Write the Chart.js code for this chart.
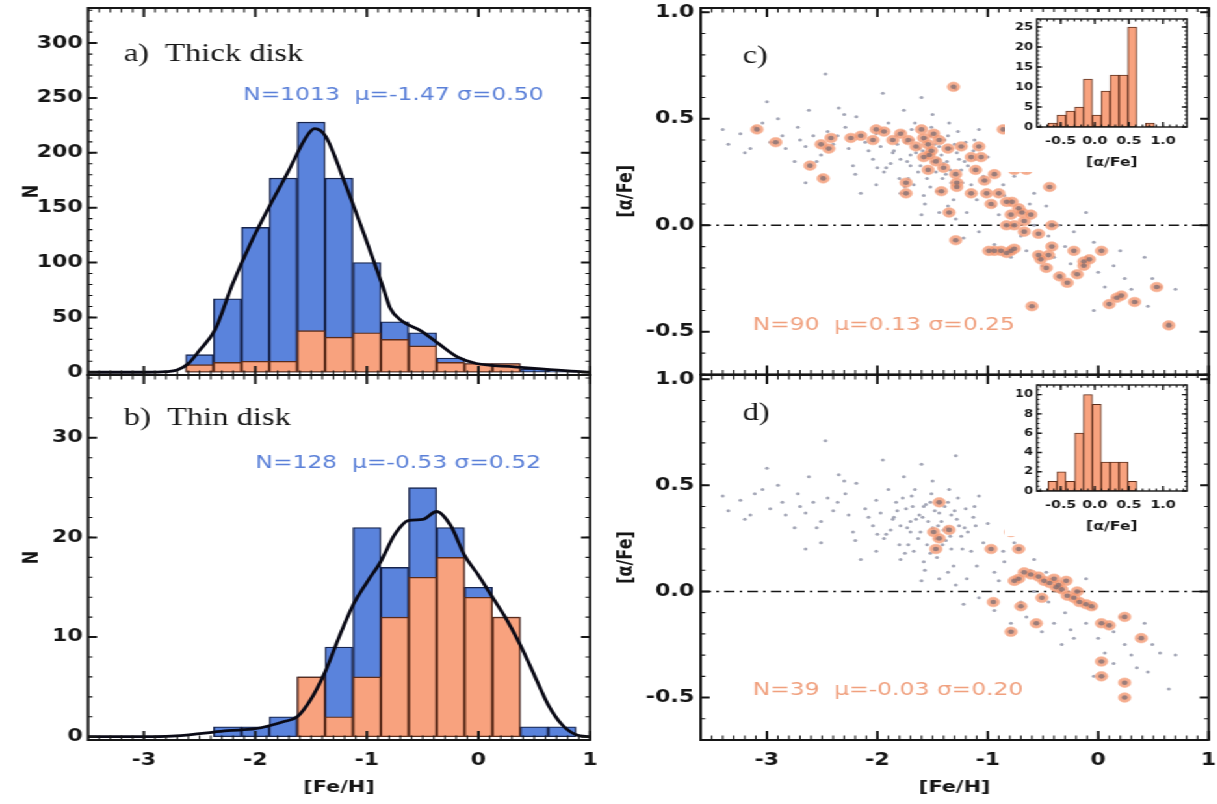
<!DOCTYPE html>
<html>
<head>
<meta charset="utf-8">
<title>Thick and thin disk metallicity</title>
<script src="https://cdn.jsdelivr.net/npm/chart.js@4.4.1/dist/chart.umd.min.js"></script>
<style>
  html, body { margin: 0; padding: 0; width: 1217px; height: 804px; background: #fff; overflow: hidden; }
  /* the original figure is stretched sideways, so draw narrow and widen it */
  #fig { position: absolute; left: 0; top: 0; width: 937px; height: 804px; transform: scaleX(1.3); transform-origin: 0 0; }
  #fig canvas { position: absolute; }
</style>
</head>
<body>
<div id="fig">
  <canvas id="panelA"></canvas>
  <canvas id="panelB"></canvas>
  <canvas id="panelC"></canvas>
  <canvas id="panelD"></canvas>
  <canvas id="insetC"></canvas>
  <canvas id="insetD"></canvas>
</div>
<script>
const SX = 1.3;

// [Fe/H] histograms (bin centres, counts)
const thickBins = [-2.5, -2.25, -2.0, -1.75, -1.5, -1.25, -1.0, -0.75, -0.5, -0.25, 0.0, 0.25, 0.5, 0.75];
const thickAll  = [16, 67, 132, 177, 228, 177, 100, 46, 36, 13, 8, 8, 3, 1];
const thickSub  = [7, 9, 10, 10, 38, 32, 36, 30, 24, 9, 8, 8, null, null];
const thickFitX = [-3.5, -3.0, -2.8, -2.7, -2.6, -2.5, -2.36, -2.21, -2.04, -1.875, -1.71, -1.54, -1.47, -1.37, -1.2, -1.03, -0.86, -0.79, -0.69, -0.52, -0.37, -0.19, -0.02, 0.32, 0.56, 0.83, 1.0];
const thickFitY = [0, 0, 0.5, 2, 8, 20, 39, 79, 118, 151, 182, 215, 222, 215, 173, 127, 79, 58, 47, 38, 27, 14, 8, 5, 3, 1, 0];

const thinBins = [-2.25, -2.0, -1.75, -1.5, -1.25, -1.0, -0.75, -0.5, -0.25, 0.0, 0.25, 0.5, 0.75];
const thinAll  = [1, 1, 2, 6, 9, 21, 17, 25, 21, 15, 12, 1, 1];
const thinSub  = [null, null, null, 6, 2, 6, 12, 16, 18, 14, 12, null, null];
const thinFitX = [-3.5, -3.0, -2.75, -2.5, -2.25, -2.0, -1.875, -1.75, -1.625, -1.5, -1.375, -1.25, -1.125, -1.0, -0.875, -0.75, -0.625, -0.5, -0.375, -0.25, -0.125, 0.0, 0.125, 0.25, 0.375, 0.5, 0.625, 0.75, 0.875, 1.0];
const thinFitY = [0, 0, 0.05, 0.3, 0.6, 0.8, 1.1, 1.5, 2.0, 3.8, 6.5, 10.0, 13.2, 15.5, 17.6, 20.3, 21.7, 21.8, 22.6, 21.2, 18.2, 16.2, 14.0, 11.8, 9.2, 6.2, 3.2, 1.2, 0.2, 0];

// [alpha/Fe] inset histograms
const alphaBins  = [-0.62, -0.49, -0.36, -0.23, -0.10, 0.03, 0.16, 0.29, 0.42, 0.55, 0.68, 0.81];
const alphaThick = [1, 3, 4, 5, 12, 3, 9, 13, 13, 25, null, 1];
const alphaThin  = [1, 2, 1, 6, 10, 9, 3, 3, 3, 1, null, null];

// full sample, small grey dots
const bgFeH = [
  -3.35, -3.24, -3.11, -3.04, -3.15, -2.97, -2.86, -2.83, -2.72, -2.65,
  -2.58, -2.51, -2.47, -2.65, -2.51, -2.36, -2.29, -2.26, -2.22, -2.19,
  -2.11, -2.04, -2.01, -1.97, -1.94, -1.90, -1.86, -1.83, -1.79, -1.76,
  -1.74, -1.72, -1.69, -1.65, -1.61, -1.60, -1.58, -1.54, -1.51, -1.47,
  -1.44, -1.40, -1.36, -1.33, -1.29, -1.28, -1.24, -1.20, -1.15, -1.11,
  -1.08, -1.04, -2.15, -2.01, -1.79, -1.58, -1.36, -1.29, -1.19, -1.22,
  -1.08, -0.94, -0.86, -0.76, -0.65, -0.58, -0.47, -0.94, -0.79, -0.65,
  -0.51, -0.40, -0.33, -0.22, -0.11, -0.04, 0.06, 0.14, 0.24, 0.35,
  0.49, 0.56, 0.64, -0.04, 0.14, 0.42, -0.36, -0.22, -0.11, -0.58,
  -0.72, -1.70, -1.62, -1.55, -1.50, -1.42, -1.38, -1.30, -1.26, -1.68,
  -1.88, -2.40, -2.75, -3.00, -2.62, -1.95, -1.50, -1.10, -0.90, -0.70,
  -0.30, 0.00, 0.30, -2.35, -1.35, -1.75,
  -1.92, -1.85, -1.80, -1.77, -1.73, -1.67, -1.63, -1.59, -1.56, -1.52,
  -1.48, -1.45, -1.41, -1.37, -1.33, -1.31, -1.27, -1.23, -1.18, -1.13,
  -1.66, -1.57, -1.46, -1.39, -1.21, -2.08, -2.20, -2.30, -2.45, -2.55,
  -2.70, -2.90, -3.20, -3.40, -1.00, -0.85, -0.62, -0.45, -0.25, 0.20,
  0.45, 0.70, -1.60, -1.44, -1.70, -1.52, -1.34, -1.82, -2.00, -1.12
];
const bgAlpha = [
  0.38, 0.43, 0.46, 0.48, 0.36, 0.39, 0.42, 0.36, 0.46, 0.37,
  0.42, 0.33, 0.71, 0.20, 0.23, 0.42, 0.46, 0.36, 0.28, 0.51,
  0.39, 0.31, 0.43, 0.37, 0.25, 0.48, 0.34, 0.42, 0.31, 0.54,
  0.39, 0.22, 0.45, 0.34, 0.28, 0.60, 0.40, 0.33, 0.46, 0.25,
  0.37, 0.29, 0.42, 0.20, 0.64, 0.34, 0.26, 0.39, 0.19, 0.31,
  0.45, 0.23, 0.15, 0.19, 0.15, 0.14, 0.09, 0.03, 0.06, -0.06,
  -0.03, 0.09, 0.19, 0.23, 0.28, 0.15, 0.09, -0.09, -0.15, -0.12,
  -0.19, -0.15, -0.25, -0.22, -0.15, -0.08, -0.29, -0.34, -0.25, -0.36,
  -0.25, -0.29, -0.46, -0.40, -0.19, -0.15, 0.00, -0.03, 0.06, 0.00,
  0.06, 0.28, 0.36, 0.22, 0.30, 0.33, 0.24, 0.38, 0.31, 0.40,
  0.29, 0.38, 0.30, 0.58, 0.54, 0.62, 0.52, 0.12, 0.05, -0.05,
  -0.10, -0.22, -0.30, 0.55, 0.48, 0.18,
  0.27, 0.35, 0.22, 0.44, 0.30, 0.19, 0.25, 0.35, 0.41, 0.18,
  0.38, 0.31, 0.22, 0.30, 0.36, 0.12, 0.44, 0.20, 0.28, 0.35,
  0.48, 0.10, 0.16, 0.40, 0.30, 0.35, 0.24, 0.52, 0.44, 0.30,
  0.40, 0.50, 0.34, 0.45, 0.32, 0.14, 0.10, -0.05, -0.18, -0.12,
  -0.38, -0.30, 0.05, 0.06, 0.33, 0.42, 0.26, 0.38, 0.27, 0.40
];

// thick disk stars with [alpha/Fe] (panel c)
const thickFeH = [
  -3.09, -2.92, -2.61, -2.51, -2.49, -2.42, -2.24, -2.01, -1.94, -1.86,
  -1.79, -1.74, -1.74, -1.65, -1.60, -1.58, -1.54, -1.51, -1.47, -1.54,
  -1.44, -1.42, -1.36, -1.31, -1.29, -1.28, -1.35, -1.29, -1.24, -1.15,
  -1.08, -1.06, -1.03, -1.01, -0.97, -0.99, -0.94, -0.88, -0.83, -0.94,
  -0.90, -0.86, -0.83, -0.78, -0.76, -0.72, -0.69, -0.67, -0.83, -0.76,
  -0.67, -0.65, -0.54, -0.54, -0.45, -0.47, -0.44, -0.42, -0.35, -0.28,
  -0.22, -0.19, -0.13, 0.03, 0.10, 0.17, 0.21, 0.33, 0.53, 0.64,
  -0.60, -2.04, -2.15, -1.58, -1.49, -1.53, -1.40, -1.15, -1.11, -1.28,
  -0.79, -0.61, -0.76, -0.52, -0.13, -0.79, -2.44, -1.72, -0.42, -0.08
];
const thickAlpha = [
  0.45, 0.39, 0.28, 0.38, 0.22, 0.41, 0.41, 0.45, 0.44, 0.40,
  0.43, 0.20, 0.15, 0.37, 0.45, 0.41, 0.38, 0.35, 0.30, 0.26,
  0.40, 0.16, 0.36, 0.65, 0.24, 0.20, 0.06, -0.07, 0.37, 0.15,
  0.37, 0.32, 0.21, 0.15, 0.10, -0.12, -0.12, -0.12, -0.13, 0.24,
  0.15, 0.45, 0.11, 0.11, 0.26, 0.08, 0.06, 0.02, 0.00, 0.00,
  -0.03, 0.26, -0.04, -0.14, -0.14, -0.20, 0.18, 0.00, -0.24, -0.27,
  -0.12, -0.23, -0.17, -0.12, -0.37, -0.34, -0.33, -0.36, -0.29, -0.47,
  -0.38, 0.40, 0.42, 0.32, 0.43, 0.33, 0.27, 0.32, 0.26, 0.18,
  0.05, 0.05, -0.11, -0.16, -0.19, -0.12, 0.36, 0.40, -0.10, -0.16
];

// thin disk stars with [alpha/Fe] (panel d)
const thinFeH = [
  -1.44, -1.49, -1.44, -1.47, -1.35, -0.79, -0.72, -0.97, -0.76, -0.67,
  -0.61, -0.54, -0.49, -0.44, -0.38, -0.33, -0.28, -0.22, -0.17, -0.11,
  -0.06, -0.95, -0.70, -0.56, -0.79, 0.03, 0.10, 0.24, 0.39, 0.03,
  0.03, 0.24, 0.24, -0.36, -0.29, -0.40, -0.51, -0.19, -0.72
];
const thinAlpha = [
  0.42, 0.28, 0.25, 0.20, 0.29, 0.28, 0.20, 0.20, 0.05, 0.09,
  0.08, 0.07, 0.05, 0.04, 0.02, 0.01, -0.02, -0.03, -0.05, -0.06,
  -0.07, -0.05, -0.07, -0.15, -0.19, -0.15, -0.16, -0.12, -0.22, -0.33,
  -0.40, -0.43, -0.50, 0.03, 0.05, 0.06, -0.03, 0.00, 0.06
];

const zeroLineX = [-3.6, 1.0];
const zeroLineY = [0, 0];

// tick labels
const ticksFeH = [-3, -2, -1, 0, 1];
const ticksThick = [0, 50, 100, 150, 200, 250, 300];
const ticksThin = [0, 10, 20, 30];
const ticksAlpha = [-0.5, 0.0, 0.5, 1.0];
const ticksInsetX = [-0.5, 0.0, 0.5, 1.0];
const ticksInsetThick = [0, 5, 10, 15, 20, 25];
const ticksInsetThin = [0, 2, 4, 6, 8, 10];

const BLUE = '#5a83dc';
const BLUE_EDGE = '#17244d';
const ORANGE = '#f8a27e';
const ORANGE_EDGE = '#5c2c1a';
const BLUE_TEXT = '#5b80d8';
const ORANGE_TEXT = '#f0a07e';
const INK = '#161616';

Chart.defaults.font.family = 'DejaVu Sans';

function pts(xs, ys) {
  return xs.map((x, i) => ({ x: x, y: ys[i] }));
}

function place(id, left, top, w, h) {
  const c = document.getElementById(id);
  c.width = w;
  c.height = h;
  c.style.left = left + 'px';
  c.style.top = top + 'px';
  return c;
}

// linear axis with fixed box size and hand-picked tick values
function axis(o) {
  return {
    type: 'linear',
    min: o.min,
    max: o.max,
    offset: false,
    display: o.show !== false,
    grid: { display: false, drawTicks: false },
    border: { display: false },
    ticks: {
      autoSkip: false,
      maxRotation: 0,
      padding: o.pad || 4,
      color: INK,
      font: { size: o.size || 17, weight: 'bold' },
      callback: o.fmt || (v => String(v))
    },
    title: o.title ? {
      display: true,
      text: o.title,
      color: INK,
      font: { size: o.titleSize || 16, weight: 'bold' },
      padding: o.titlePad
    } : { display: false },
    afterBuildTicks: s => { s.ticks = o.ticks.map(v => ({ value: v })); },
    afterFit: s => {
      if (o.w != null) s.width = o.w;
      if (o.h != null) s.height = o.h;
      s.paddingTop = 0; s.paddingBottom = 0; s.paddingLeft = 0; s.paddingRight = 0;
    }
  };
}

const paper = {
  id: 'paper',
  beforeDraw(chart, args, o) {
    if (!o.fill) return;
    const ctx = chart.ctx;
    ctx.save();
    ctx.fillStyle = '#ffffff';
    ctx.fillRect(0, 0, chart.width, chart.height);
    ctx.restore();
  }
};

// IDL style box with inward ticks on all four sides
const frameTicks = {
  id: 'frameTicks',
  afterDatasetsDraw(chart, args, o) {
    const ctx = chart.ctx;
    const a = chart.chartArea;
    const sx = chart.scales.x, sy = chart.scales.y;
    const steps = (s, step) => {
      const out = [];
      for (let k = Math.ceil(s.min / step - 1e-6); k * step <= s.max + 1e-9; k++) out.push(k * step);
      return out;
    };
    const xt = (v, len) => {
      const p = sx.getPixelForValue(v);
      ctx.moveTo(p, a.bottom); ctx.lineTo(p, a.bottom - len);
      ctx.moveTo(p, a.top); ctx.lineTo(p, a.top + len);
    };
    const yt = (v, len) => {
      const p = sy.getPixelForValue(v);
      ctx.moveTo(a.left, p); ctx.lineTo(a.left + len / SX, p);
      ctx.moveTo(a.right, p); ctx.lineTo(a.right - len / SX, p);
    };
    ctx.save();
    ctx.strokeStyle = INK;
    ctx.lineWidth = 1.1;
    ctx.beginPath();
    steps(sx, o.xMinor).forEach(v => xt(v, o.minorLen));
    steps(sy, o.yMinor).forEach(v => yt(v, o.minorLen));
    ctx.stroke();
    ctx.lineWidth = o.lw;
    ctx.beginPath();
    o.xMajor.forEach(v => xt(v, o.len));
    o.yMajor.forEach(v => yt(v, o.len));
    ctx.stroke();
    ctx.strokeRect(a.left, a.top, a.right - a.left, a.bottom - a.top);
    ctx.restore();
  }
};

// panel labels and statistics, anchored in data coordinates
const textMarks = {
  id: 'textMarks',
  afterDraw(chart, args, o) {
    if (!o.items) return;
    const ctx = chart.ctx;
    ctx.save();
    ctx.textAlign = 'left';
    ctx.textBaseline = 'alphabetic';
    o.items.forEach(t => {
      ctx.font = t.font;
      ctx.fillStyle = t.color;
      ctx.fillText(t.label, chart.scales.x.getPixelForValue(t.x), chart.scales.y.getPixelForValue(t.y));
    });
    ctx.restore();
  }
};

const common = {
  responsive: false,
  animation: false,
  devicePixelRatio: 1,
  events: []
};

const serif = '25px "Liberation Serif"';
const stat = '18px "DejaVu Sans"';

function histBars(bins, counts, fill, edge, order) {
  return {
    data: pts(bins, counts),
    backgroundColor: fill,
    borderColor: edge,
    borderWidth: 1.4,
    borderSkipped: false,
    grouped: false,
    barPercentage: 1,
    categoryPercentage: 1,
    order: order
  };
}

function fitLine(xs, ys) {
  return {
    type: 'line',
    data: pts(xs, ys),
    borderColor: '#0a0a16',
    borderWidth: 2.8,
    pointRadius: 0,
    cubicInterpolationMode: 'monotone',
    order: 0
  };
}

// a) thick disk
new Chart(place('panelA', 0, 0, 463, 380), {
  type: 'bar',
  data: { datasets: [
    fitLine(thickFitX, thickFitY),
    histBars(thickBins, thickSub, ORANGE, ORANGE_EDGE, 1),
    histBars(thickBins, thickAll, BLUE, BLUE_EDGE, 2)
  ] },
  options: Object.assign({}, common, {
    layout: { padding: { left: 0, top: 8, right: 9.15, bottom: 5 } },
    scales: {
      x: axis({ min: -3.5, max: 1.0, show: false, ticks: ticksFeH }),
      y: axis({ min: -2.5, max: 332, ticks: ticksThick, w: 67.7, title: 'N', titlePad: { top: 15, bottom: 0 } })
    },
    plugins: {
      legend: { display: false }, tooltip: { enabled: false },
      frameTicks: { xMajor: ticksFeH, xMinor: 0.1, yMajor: ticksThick, yMinor: 10, len: 9, minorLen: 4.5, lw: 2 },
      textMarks: { items: [
        { label: 'a)  Thick disk', x: -3.18, y: 284, font: serif, color: INK },
        { label: 'N=1013  \u03bc=-1.47 \u03c3=0.50', x: -2.11, y: 248, font: stat, color: BLUE_TEXT }
      ] }
    }
  }),
  plugins: [frameTicks, textMarks]
});

// b) thin disk
new Chart(place('panelB', 0, 360, 463, 444), {
  type: 'bar',
  data: { datasets: [
    fitLine(thinFitX, thinFitY),
    histBars(thinBins, thinSub, ORANGE, ORANGE_EDGE, 1),
    histBars(thinBins, thinAll, BLUE, BLUE_EDGE, 2)
  ] },
  options: Object.assign({}, common, {
    layout: { padding: { left: 0, top: 15, right: 9.15, bottom: 0 } },
    scales: {
      x: axis({ min: -3.5, max: 1.0, ticks: ticksFeH, h: 64, pad: 10, title: '[Fe/H]', titlePad: { top: 0, bottom: 7 } }),
      y: axis({ min: -0.33, max: 36.3, ticks: ticksThin, w: 67.7, title: 'N', titlePad: { top: 15, bottom: 0 } })
    },
    plugins: {
      legend: { display: false }, tooltip: { enabled: false },
      frameTicks: { xMajor: ticksFeH, xMinor: 0.1, yMajor: ticksThin, yMinor: 2, len: 9, minorLen: 4.5, lw: 2 },
      textMarks: { items: [
        { label: 'b)  Thin disk', x: -3.18, y: 31.3, font: serif, color: INK },
        { label: 'N=128  \u03bc=-0.53 \u03c3=0.52', x: -2.0, y: 27.0, font: stat, color: BLUE_TEXT }
      ] }
    }
  }),
  plugins: [frameTicks, textMarks]
});

function scatterSets(feh, alpha) {
  return [
    { data: pts(feh, alpha), pointRadius: 2.3, pointBackgroundColor: 'rgba(125,110,115,0.75)', pointBorderWidth: 0, order: 0 },
    { data: pts(feh, alpha), pointRadius: 4.8, pointBackgroundColor: 'rgba(242,150,112,0.78)', pointBorderColor: 'rgba(248,180,150,0.8)', pointBorderWidth: 0.8, order: 1 },
    { data: pts(bgFeH, bgAlpha), pointRadius: 1.5, pointBackgroundColor: '#a3a6b6', pointBorderWidth: 0, order: 2 },
    { type: 'line', data: pts(zeroLineX, zeroLineY), borderColor: INK, borderWidth: 1.6, borderDash: [8, 4, 2, 4], pointRadius: 0, order: 3 }
  ];
}

const alphaFmt = v => v.toFixed(1);

// c) thick disk [alpha/Fe]
new Chart(place('panelC', 458.5, 0, 477, 380), {
  type: 'scatter',
  data: { datasets: scatterSets(thickFeH, thickAlpha) },
  options: Object.assign({}, common, {
    layout: { padding: { left: 0, top: 8, right: 6.27, bottom: 5 } },
    scales: {
      x: axis({ min: -3.6, max: 1.0, show: false, ticks: ticksFeH }),
      y: axis({ min: -0.7, max: 1.02, ticks: ticksAlpha, w: 80, pad: 5, fmt: alphaFmt, title: '[\u03b1/Fe]', titlePad: { top: 13, bottom: 0 } })
    },
    plugins: {
      legend: { display: false }, tooltip: { enabled: false },
      frameTicks: { xMajor: ticksFeH, xMinor: 0.1, yMajor: ticksAlpha, yMinor: 0.1, len: 9, minorLen: 4.5, lw: 2 },
      textMarks: { items: [
        { label: 'c)', x: -3.22, y: 0.76, font: serif, color: INK },
        { label: 'N=90  \u03bc=0.13 \u03c3=0.25', x: -3.13, y: -0.49, font: stat, color: ORANGE_TEXT }
      ] }
    }
  }),
  plugins: [frameTicks, textMarks]
});

// d) thin disk [alpha/Fe]
new Chart(place('panelD', 458.5, 360, 477, 444), {
  type: 'scatter',
  data: { datasets: scatterSets(thinFeH, thinAlpha) },
  options: Object.assign({}, common, {
    layout: { padding: { left: 0, top: 15, right: 6.27, bottom: 0 } },
    scales: {
      x: axis({ min: -3.6, max: 1.0, ticks: ticksFeH, h: 64, pad: 10, title: '[Fe/H]', titlePad: { top: 0, bottom: 7 } }),
      y: axis({ min: -0.7, max: 1.02, ticks: ticksAlpha, w: 80, pad: 5, fmt: alphaFmt, title: '[\u03b1/Fe]', titlePad: { top: 13, bottom: 0 } })
    },
    plugins: {
      legend: { display: false }, tooltip: { enabled: false },
      frameTicks: { xMajor: ticksFeH, xMinor: 0.1, yMajor: ticksAlpha, yMinor: 0.1, len: 9, minorLen: 4.5, lw: 2 },
      textMarks: { items: [
        { label: 'd)', x: -3.22, y: 0.81, font: serif, color: INK },
        { label: 'N=39  \u03bc=-0.03 \u03c3=0.20', x: -3.13, y: -0.49, font: stat, color: ORANGE_TEXT }
      ] }
    }
  }),
  plugins: [frameTicks, textMarks]
});

function insetChart(id, top, h, boxH, counts, yMax, yTicks, yMinor) {
  return new Chart(place(id, 773.1, top, 150, h), {
    type: 'bar',
    data: { datasets: [{
      data: pts(alphaBins, counts),
      backgroundColor: ORANGE,
      borderColor: ORANGE_EDGE,
      borderWidth: 1,
      borderSkipped: false,
      barPercentage: 1,
      categoryPercentage: 1
    }] },
    options: Object.assign({}, common, {
      layout: { padding: { left: 0, top: 7, right: 10, bottom: 0 } },
      scales: {
        x: axis({ min: -0.85, max: 1.35, ticks: ticksInsetX, h: h - 7 - boxH, pad: 8, size: 11, fmt: alphaFmt,
                  title: '[\u03b1/Fe]', titleSize: 12, titlePad: { top: 0, bottom: 2 } }),
        y: axis({ min: 0, max: yMax, ticks: yTicks, w: 24.6, pad: 3, size: 10 })
      },
      plugins: {
        legend: { display: false }, tooltip: { enabled: false },
        paper: { fill: true },
        frameTicks: { xMajor: ticksInsetX, xMinor: 0.1, yMajor: yTicks, yMinor: yMinor, len: 5, minorLen: 2.5, lw: 1.4 }
      }
    }),
    plugins: [paper, frameTicks]
  });
}

insetChart('insetC', 12, 160, 108, alphaThick, 27, ticksInsetThick, 1);
insetChart('insetD', 378, 158, 106, alphaThin, 11, ticksInsetThin, 0.5);
</script>
</body>
</html>
